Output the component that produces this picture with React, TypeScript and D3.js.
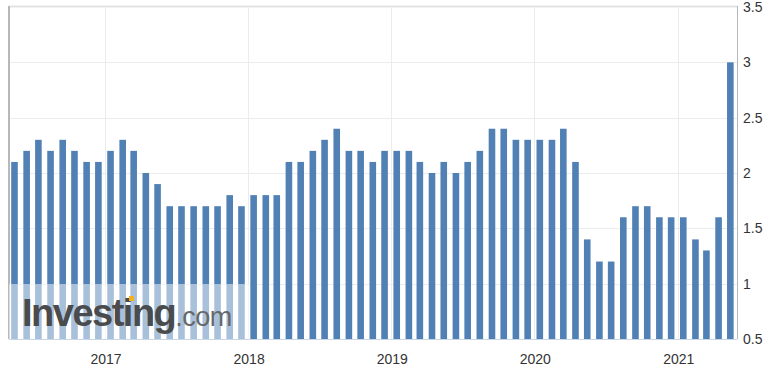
import React, { useEffect, useRef } from 'react';
import * as d3 from 'd3';

// monthly readings, May 2016 .. May 2021
const startMonth = [2016, 4]; // year, zero-based month
const values = [
  2.1, 2.2, 2.3, 2.2, 2.3, 2.2, 2.1, 2.1, 2.2, 2.3, 2.2, 2.0, 1.9, 1.7, 1.7, 1.7, 1.7, 1.7, 1.8, 1.7,
  1.8, 1.8, 1.8, 2.1, 2.1, 2.2, 2.3, 2.4, 2.2, 2.2, 2.1, 2.2, 2.2, 2.2, 2.1, 2.0, 2.1, 2.0, 2.1, 2.2,
  2.4, 2.4, 2.3, 2.3, 2.3, 2.3, 2.4, 2.1, 1.4, 1.2, 1.2, 1.6, 1.7, 1.7, 1.6, 1.6, 1.6, 1.4, 1.3, 1.6,
  3.0,
];
const yTicks = [0.5, 1, 1.5, 2, 2.5, 3, 3.5];
const yearTicks = [2017, 2018, 2019, 2020, 2021];

const W = 782;
const H = 385;

const App: React.FC = () => {
  const svgRef = useRef<SVGSVGElement>(null);

  useEffect(() => {
    if (!svgRef.current) return;
    const svg = d3.select(svgRef.current);
    svg.selectAll('*').remove();

    const left = 9, right = 737, top = 7, bottom = 339;
    const data = values.map((v, i) => ({ date: new Date(startMonth[0], startMonth[1] + i, 15), value: v }));

    const x = d3.scaleTime()
      .domain([new Date(2016, 4, 1), new Date(2021, 5, 1)])
      .range([left, right]);
    const y = d3.scaleLinear().domain([0.5, 3.5]).range([bottom, top]);

    const font = 'Liberation Sans, Arial, Helvetica, sans-serif';

    // grid
    svg.append('g').selectAll('line.h')
      .data(yTicks.slice(1, -1))
      .enter().append('line')
      .attr('x1', left).attr('x2', right)
      .attr('y1', d => Math.round(y(d)) + 0.5).attr('y2', d => Math.round(y(d)) + 0.5)
      .attr('stroke', '#ececec').attr('stroke-width', 1);

    svg.append('g').selectAll('line.v')
      .data(yearTicks)
      .enter().append('line')
      .attr('x1', d => Math.round(x(new Date(d, 0, 1))) + 0.5)
      .attr('x2', d => Math.round(x(new Date(d, 0, 1))) + 0.5)
      .attr('y1', top).attr('y2', bottom)
      .attr('stroke', '#ececec').attr('stroke-width', 1);

    // top border
    svg.append('line')
      .attr('x1', left).attr('x2', right)
      .attr('y1', top - 0.5).attr('y2', top - 0.5)
      .attr('stroke', '#e3e3e3').attr('stroke-width', 2);

    // bars
    const bw = 6.6;
    svg.append('g').selectAll('rect')
      .data(data)
      .enter().append('rect')
      .attr('x', d => x(d.date) - bw / 2)
      .attr('y', d => y(d.value))
      .attr('width', bw)
      .attr('height', d => bottom - y(d.value))
      .attr('fill', '#5181b4');

    // left border & right axis
    svg.append('line')
      .attr('x1', left).attr('x2', left)
      .attr('y1', top - 1).attr('y2', bottom)
      .attr('stroke', '#b8b8b8').attr('stroke-width', 2);
    svg.append('line')
      .attr('x1', right + 0.5).attr('x2', right + 0.5)
      .attr('y1', top - 1).attr('y2', bottom)
      .attr('stroke', '#b8b8b8').attr('stroke-width', 1);
    svg.append('line')
      .attr('x1', left).attr('x2', right)
      .attr('y1', bottom + 0.5).attr('y2', bottom + 0.5)
      .attr('stroke', '#c9d6e6').attr('stroke-width', 1);

    // watermark
    svg.append('rect')
      .attr('x', left).attr('y', 284)
      .attr('width', 240).attr('height', bottom - 284)
      .attr('fill', '#ffffff').attr('opacity', 0.5);
    const wm = svg.append('text')
      .attr('x', 22).attr('y', 326)
      .style('font-family', font);
    wm.append('tspan')
      .attr('font-weight', 'bold').attr('font-size', 38)
      .attr('fill', '#4a4b4d').attr('letter-spacing', -1.5)
      .text('Investing');
    wm.append('tspan')
      .attr('font-size', 27).attr('fill', '#67686a')
      .attr('letter-spacing', -0.5)
      .text('.com');
    // orange dot of the "i"
    svg.append('rect')
      .attr('x', 129).attr('y', 296).attr('width', 5).attr('height', 5)
      .attr('fill', '#f5b11d');

    // y labels
    svg.append('g').selectAll('text')
      .data(yTicks)
      .enter().append('text')
      .attr('x', right + 6)
      .attr('y', d => y(d) + 5)
      .style('font-family', font)
      .style('font-size', '14px')
      .attr('fill', '#333')
      .text(d => String(d));

    // year labels
    svg.append('g').selectAll('text')
      .data(yearTicks)
      .enter().append('text')
      .attr('x', d => x(new Date(d, 0, 1)) + 1)
      .attr('y', 364)
      .attr('text-anchor', 'middle')
      .style('font-family', font)
      .style('font-size', '14px')
      .attr('fill', '#333')
      .text(d => String(d));
  }, []);

  return (
    <div style={{ position: 'absolute', left: 0, top: 0, width: W, height: H }}>
      <svg ref={svgRef} width={W} height={H} style={{ display: 'block' }} />
    </div>
  );
};

export default App;
